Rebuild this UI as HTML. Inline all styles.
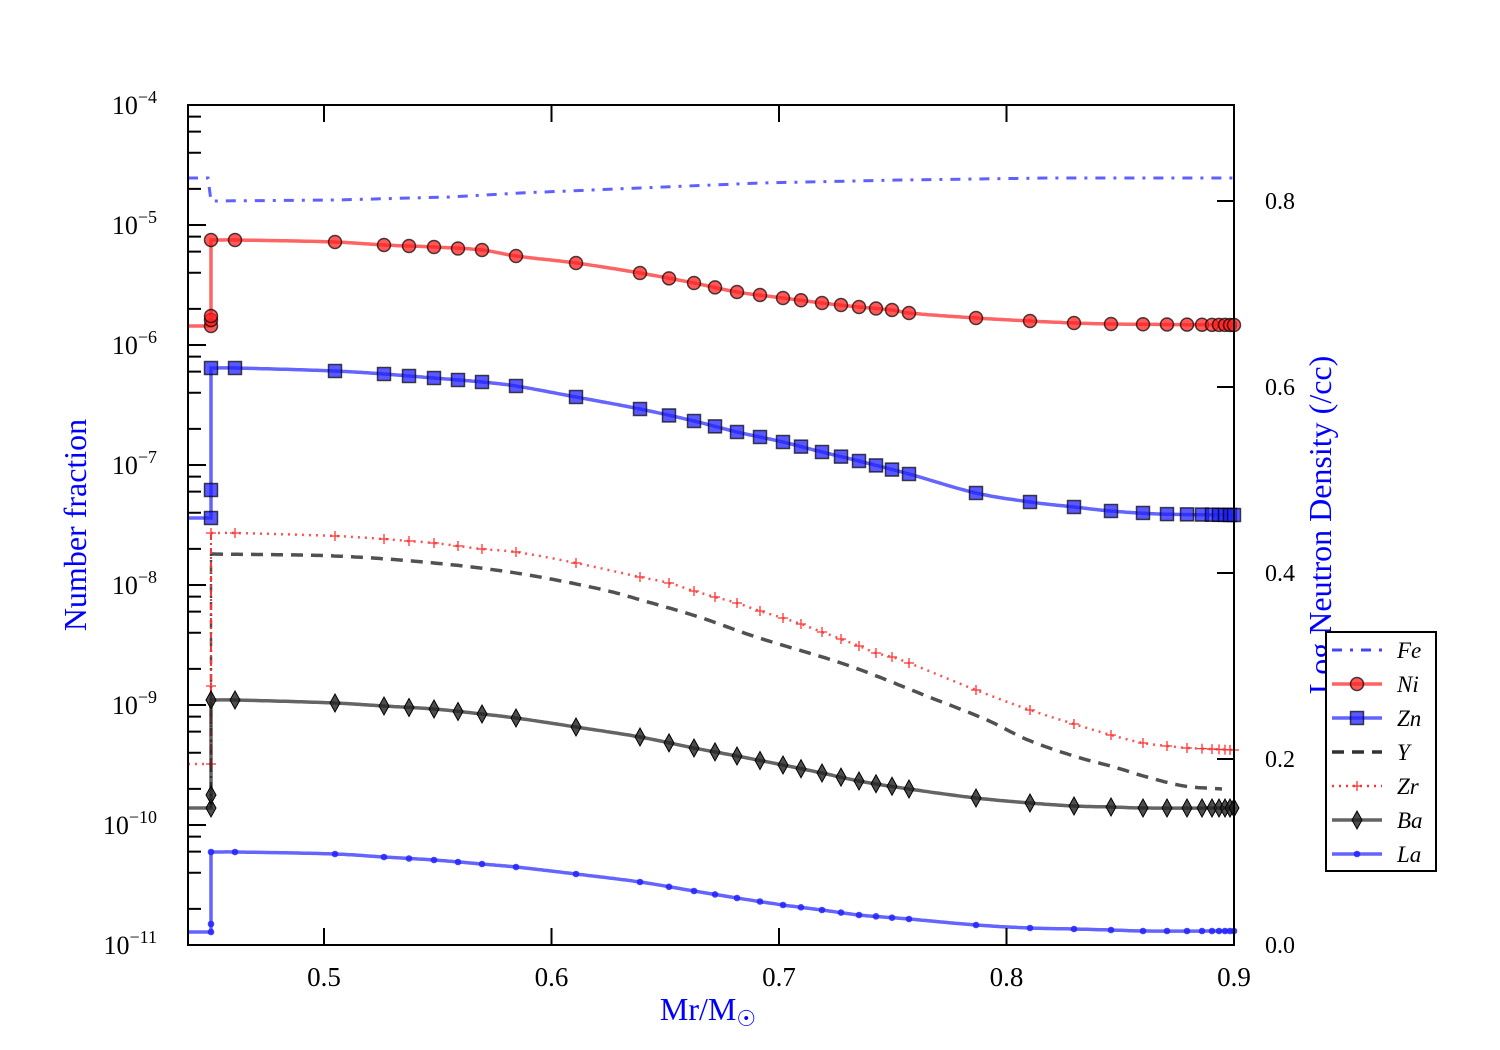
<!DOCTYPE html>
<html><head><meta charset="utf-8"><style>
body{margin:0;background:#fff}
svg{display:block}
text{font-family:"Liberation Serif",serif;}
</style></head><body>
<svg id="s" width="1500" height="1050" viewBox="0 0 1500 1050" xmlns="http://www.w3.org/2000/svg"></svg>
<script>
const S=document.getElementById('s');let h='';
const X=[235,335,384,409,434,458,482,516,576,640,669,694,715,737,760,783,801,822,841,859,876,892,909,976,1030,1074,1111,1143,1167,1187,1202,1212,1219,1225,1230,1234];
function interp(k,x){for(let i=0;i<k.length-1;i++){if(x<=k[i+1][0]){const t=(x-k[i][0])/(k[i+1][0]-k[i][0]);return k[i][1]+t*(k[i+1][1]-k[i][1]);}}return k[k.length-1][1];}
function smooth(k,x){
 let i=0;while(i<k.length-2&&x>k[i+1][0])i++;
 const p0=k[Math.max(i-1,0)],p1=k[i],p2=k[i+1],p3=k[Math.min(i+2,k.length-1)];
 const t=(x-p1[0])/(p2[0]-p1[0]);const tt=Math.max(0,Math.min(1,t));
 const a=p1[1],b=p2[1];
 const m1=(p2[1]-p0[1])/(p2[0]-p0[0])*(p2[0]-p1[0]),m2=(p3[1]-p1[1])/(p3[0]-p1[0])*(p2[0]-p1[0]);
 const t2=tt*tt,t3=t2*tt;
 return (2*t3-3*t2+1)*a+(t3-2*t2+tt)*m1+(-2*t3+3*t2)*b+(t3-t2)*m2;}
function curve(k,end){const pts=[];for(let x=211;x<=(end||1234);x+=3)pts.push([x,smooth(k,x)]);return pts;}
function pl(p,st){return `<polyline points="${p.map(q=>q[0]+','+q[1].toFixed(1)).join(' ')}" fill="none" ${st}/>`;}
function mk(type,x,y,fill){
 if(type=='o')return `<circle cx="${x}" cy="${y}" r="6.5" fill="${fill}" fill-opacity="0.75" stroke="#000" stroke-opacity="0.7" stroke-width="1.5"/>`;
 if(type=='s')return `<rect x="${x-6.5}" y="${y-6.5}" width="13" height="13" fill="${fill}" fill-opacity="0.75" stroke="#000" stroke-opacity="0.7" stroke-width="1.5"/>`;
 if(type=='d')return `<polygon points="${x},${y-9} ${x+5},${y} ${x},${y+9} ${x-5},${y}" fill="#222" fill-opacity="0.8" stroke="#000" stroke-width="1"/>`;
 if(type=='.')return `<circle cx="${x}" cy="${y}" r="3.3" fill="#2222ff" fill-opacity="0.85"/>`;
 if(type=='+')return `<path d="M${x-5},${y}H${x+5}M${x},${y-5}V${y+5}" stroke="#ff3333" stroke-width="1.3"/>`;
}
h+=pl([[188,178],[208,178],[211,201],[335,200],[450,197],[520,193],[640,188],[760,183],[900,180],[1050,178],[1234,178]],'stroke="#4444ff" stroke-opacity="0.85" stroke-width="3" stroke-dasharray="10,8,3,8"');
const series=[
 {k:[[211,240],[235,240],[335,242],[384,245],[434,247],[482,250],[516,256],[576,263],[640,273],[694,283],[737,292],[783,298],[822,303],[859,307],[892,310],[909,313],[976,318],[1030,321],[1074,323],[1111,324],[1234,325]],pre:326,st:[326,320,316,240],c:'#ff2222',m:'o'},
 {k:[[211,368],[235,368],[335,371],[384,374],[434,378],[482,382],[516,386],[576,397],[640,409],[694,421],[737,432],[783,442],[822,452],[859,461],[909,474],[976,493],[1030,502],[1074,507],[1111,511],[1160,514],[1234,515]],pre:518,st:[518,490,368],c:'#2222ff',m:'s'},
 {k:[[211,700],[235,700],[335,703],[384,706],[434,709],[482,714],[516,718],[576,727],[640,737],[694,748],[737,756],[783,765],[822,773],[859,781],[909,789],[976,798],[1030,803],[1074,806],[1111,807],[1143,808],[1234,808]],pre:808,st:[808,795,700],c:'#222',m:'d'},
 {k:[[211,852],[235,852],[335,854],[384,857],[434,860],[482,864],[516,867],[576,874],[640,882],[694,891],[737,898],[783,905],[822,910],[859,915],[909,919],[976,925],[1030,928],[1074,929],[1111,930],[1143,931],[1234,931]],pre:932,st:[932,924,852],c:'#2222ff',m:'.'}
];
const Yk2=[[211,554],[335,556],[434,563],[516,573],[600,589],[641,600],[699,617],[756,637],[847,665],[929,697],[987,720],[1028,740],[1077,757],[1114,767],[1147,777],[1184,786],[1222,789]];
h+=`<line x1="211" y1="808" x2="211" y2="554" stroke="#222" stroke-opacity="0.8" stroke-width="2.5" stroke-dasharray="8,4,2,4"/>`;
h+=pl(curve(Yk2,1222),'stroke="#333" stroke-opacity="0.85" stroke-width="3.5" stroke-dasharray="12,8"');
const Zk=[[211,533],[235,533],[335,536],[384,539],[409,541],[434,543],[458,546],[482,549],[516,552],[576,563],[640,577],[669,583],[694,591],[715,597],[737,603],[760,611],[783,618],[801,624],[822,632],[841,639],[859,646],[876,653],[892,657],[909,663],[976,690],[1030,710],[1074,724],[1111,735],[1143,743],[1167,746],[1187,748],[1234,750]];
h+=pl([[188,764],[211,764]],'stroke="#ff3333" stroke-opacity="0.85" stroke-width="2.5" stroke-dasharray="2,5"');
h+=`<line x1="211" y1="764" x2="211" y2="533" stroke="#ff3333" stroke-width="2" stroke-dasharray="6,3,2,3"/>`;
h+=pl(curve(Zk),'stroke="#ff3333" stroke-opacity="0.85" stroke-width="2.5" stroke-dasharray="2,5"');
[764,686,533].forEach(y=>h+=mk('+',211,y));X.forEach(x=>h+=mk('+',x,interp(Zk,x)));
series.forEach(s=>{
 const st=`stroke="${s.c}" stroke-opacity="0.7" stroke-width="3.5"`;
 h+=pl([[188,s.pre],[211,s.pre],[211,s.k[0][1]]].concat(curve(s.k)),st);
 s.st.forEach(y=>h+=mk(s.m,211,y,s.c));
 X.forEach(x=>h+=mk(s.m,x,interp(s.k,x),s.c));
});
h+=`<rect x="188" y="105" width="1046" height="840" fill="none" stroke="#000" stroke-width="2"/>`;
const sup=(e,x,y)=>`<text x="${x}" y="${y}" font-size="26" text-anchor="end">10<tspan dy="-11" font-size="18">−${e}</tspan></text>`;
for(let d=0;d<=7;d++){const y=105+120*d;
 h+=`<line x1="188" y1="${y}" x2="206" y2="${y}" stroke="#000" stroke-width="2"/>`;
 h+=sup(4+d,157,y+9);
 if(d<7)[2,4,6,8].forEach(m=>{const yy=y+120-120*Math.log10(m);h+=`<line x1="188" y1="${yy}" x2="201" y2="${yy}" stroke="#000" stroke-width="2"/>`;});
}
[0.5,0.6,0.7,0.8,0.9].forEach(v=>{const x=324+(v-0.5)*2275;
 h+=`<line x1="${x}" y1="945" x2="${x}" y2="928" stroke="#000" stroke-width="2"/><line x1="${x}" y1="105" x2="${x}" y2="122" stroke="#000" stroke-width="2"/>`;
 h+=`<text x="${x}" y="986" font-size="27" text-anchor="middle">${v.toFixed(1)}</text>`;});
[0,0.2,0.4,0.6,0.8].forEach(v=>{const y=945-v*930;
 h+=`<line x1="1234" y1="${y}" x2="1217" y2="${y}" stroke="#000" stroke-width="2"/>`;
 h+=`<text x="1265" y="${y+8}" font-size="24">${v.toFixed(1)}</text>`;});
h+=`<text x="86" y="525" font-size="32" fill="#0000ff" text-anchor="middle" transform="rotate(-90 86 525)">Number fraction</text>`;
h+=`<text x="1331" y="525" font-size="32" fill="#0000ff" text-anchor="middle" transform="rotate(-90 1331 525)">Log Neutron Density (/cc)</text>`;
h+=`<text x="708" y="1020" font-size="32" fill="#0000ff" text-anchor="middle">Mr/M<tspan dy="6" font-size="22">☉</tspan></text>`;
h+=`<rect x="1326" y="632" width="110" height="239" fill="#fff" stroke="#000" stroke-width="2"/>`;
const L=[['Fe','stroke="#4444ff" stroke-width="3" stroke-dasharray="10,8,3,8"',null,'#22f'],['Ni','stroke="#ff2222" stroke-opacity="0.7" stroke-width="3.5"','o','#ff2222'],['Zn','stroke="#2222ff" stroke-opacity="0.7" stroke-width="3.5"','s','#2222ff'],['Y','stroke="#333" stroke-width="3.5" stroke-dasharray="12,8"',null],['Zr','stroke="#ff3333" stroke-width="2.5" stroke-dasharray="2,5"','+'],['Ba','stroke="#222" stroke-opacity="0.7" stroke-width="3.5"','d'],['La','stroke="#2222ff" stroke-opacity="0.7" stroke-width="3.5"','.']];
L.forEach((l,i)=>{const y=650+34*i;
 h+=`<line x1="1332" y1="${y}" x2="1382" y2="${y}" ${l[1]}/>`;
 if(l[2])h+=mk(l[2],1357,y,l[3]||'#000');
 h+=`<text x="1397" y="${y+8}" font-size="23" font-style="italic">${l[0]}</text>`;});
S.innerHTML=h;
</script>
</body></html>
